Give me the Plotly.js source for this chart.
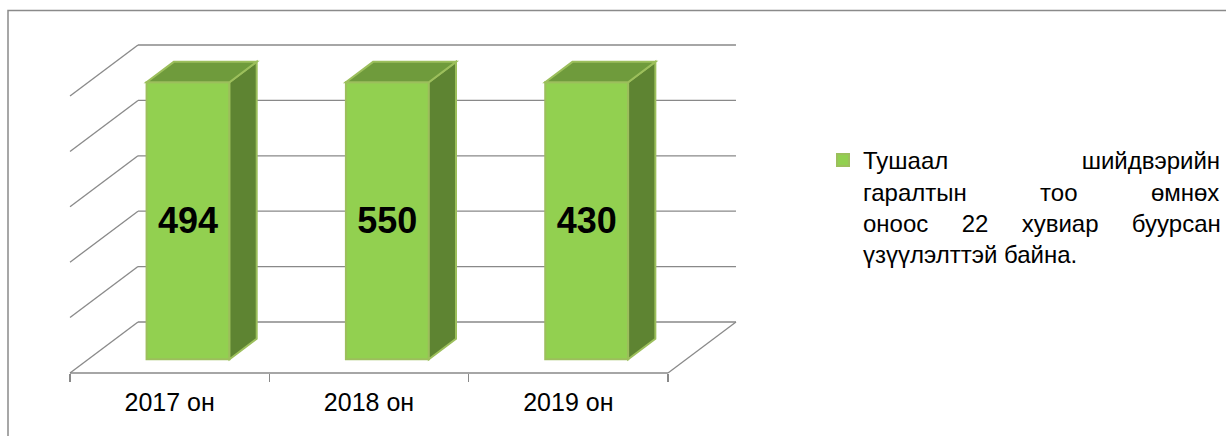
<!DOCTYPE html>
<html><head><meta charset="utf-8">
<script src="https://cdn.plot.ly/plotly-3.0.1.min.js"></script>
<style>html,body{margin:0;padding:0;background:#fff;overflow:hidden;} #chart{width:1226px;height:436px;}</style>
</head><body><div id="chart"></div>
<script>
// ---- data ----
const categories = ['2017 он', '2018 он', '2019 он'];
const values = [494, 550, 430];
const legendLines = ['Тушаал шийдвэрийн', 'гаралтын тоо өмнөх', 'оноос 22 хувиар буурсан', 'үзүүлэлттэй байна.'];
const axisMax = 400;   // value axis maximum (bars above it are clipped, as in the source)
const gridSteps = 5;

// ---- geometry / style ----
const W = 1226, H = 436;
const FONT = 'Liberation Sans, Arial, sans-serif';
const frontLeftPx = 70, catPx = 199.33, zeroPx = 373, fullPx = 277;
const depthPxX = 68, depthPxY = 51;
const barFrontDepth = 0.27, barDepth = 0.40, barWidth = 0.416;
const gridColor = '#898989';
const faceFront = '#92D050', faceTop = '#6F9B3C', faceSide = '#5E8432', edgeColor = '#9CBF5C';

const DX = depthPxX / catPx;
const DY = depthPxY / fullPx * axisMax;
const xLo = -0.6, xHi = 2.5 + DX + 0.1;
const yLo = -0.05 * axisMax, yHi = axisMax + DY + 0.05 * axisMax;
const xPx = x => frontLeftPx + (x + 0.5) * catPx;
const yPx = v => zeroPx - v / axisMax * fullPx;

const shapes = [];
const line = (x0, y0, x1, y1) => ({type: 'line', xref: 'x', yref: 'y', x0, y0, x1, y1, layer: 'below',
  line: {color: gridColor, width: 1.3}});
const step = axisMax / gridSteps;
for (let k = 0; k <= gridSteps; k++) {
  const v = k * step;
  shapes.push(line(-0.5 + DX, v + DY, 2.5 + DX, v + DY));   // back wall
  shapes.push(line(-0.5, v, -0.5 + DX, v + DY));            // side wall
}
shapes.push(line(-0.5, 0, 2.5, 0));                         // floor front edge
shapes.push(line(2.5, 0, 2.5 + DX, DY));                    // floor right edge

// 3-D faces of the bars
const base = barFrontDepth * DY;
const clipped = values.map(v => Math.min(v, axisMax));
const bdx = barDepth * DX, bdy = barDepth * DY;
const P = pts => 'M' + pts.map(p => p[0].toFixed(4) + ',' + p[1].toFixed(4)).join('L') + 'Z';
clipped.forEach((v, i) => {
  const x0 = i + barFrontDepth * DX - barWidth / 2, x1 = x0 + barWidth;
  const top = base + v;
  shapes.push({type: 'path', xref: 'x', yref: 'y', layer: 'above', fillcolor: faceSide,
    line: {color: edgeColor, width: 2},
    path: P([[x1, base], [x1, top], [x1 + bdx, top + bdy], [x1 + bdx, base + bdy]])});
  shapes.push({type: 'path', xref: 'x', yref: 'y', layer: 'above', fillcolor: faceTop,
    line: {color: edgeColor, width: 2},
    path: P([[x0, top], [x1, top], [x1 + bdx, top + bdy], [x0 + bdx, top + bdy]])});
});

// chart frame
shapes.push({type: 'rect', xref: 'paper', yref: 'paper', x0: 8 / W, x1: 1.02, y0: -0.02, y1: 1 - 10.5 / H,
  line: {color: '#8a8a8a', width: 1.5}, fillcolor: 'rgba(0,0,0,0)'});

// justified legend text (nbsp padding measured with the legend font)
const LEG_SIZE = 24, LEG_WIDTH = 355;
function justify(lines) {
  const ctx = document.createElement('canvas').getContext('2d');
  ctx.font = LEG_SIZE + 'px "Liberation Sans"';
  const nb = ctx.measureText('\u00A0').width;
  return lines.map((ln, li) => {
    const words = ln.split(' ');
    if (li === lines.length - 1 || words.length < 2) return ln;
    const wordsW = words.reduce((s, w) => s + ctx.measureText(w).width, 0);
    const gap = (LEG_WIDTH - wordsW) / (words.length - 1);
    let out = words[0], acc = 0, placed = 0;
    for (let i = 1; i < words.length; i++) {
      acc += gap;
      const n = Math.max(1, Math.round((acc - placed) / nb));
      placed += n * nb;
      out += '\u00A0'.repeat(n) + words[i];
    }
    return out;
  }).join('<br>');
}

const trace = {
  type: 'bar', x: categories, y: clipped, base: base,
  width: barWidth, offset: -barWidth / 2 + barFrontDepth * DX,
  marker: {color: faceFront, line: {color: edgeColor, width: 2}},
  text: values.map(String), textposition: 'inside', insidetextanchor: 'middle', textangle: 0,
  textfont: {family: FONT, size: 36, color: '#000', weight: 'bold'},
  name: justify(legendLines), showlegend: true, hoverinfo: 'skip'
};

const layout = {
  width: W, height: H, margin: {l: 0, r: 0, t: 0, b: 0, autoexpand: false},
  paper_bgcolor: '#fff', plot_bgcolor: 'rgba(0,0,0,0)',
  font: {family: FONT, color: '#000'},
  showlegend: true,
  xaxis: {type: 'category', range: [xLo, xHi], domain: [xPx(xLo) / W, xPx(xHi) / W],
    anchor: 'free', position: 1 - zeroPx / H,
    showgrid: false, zeroline: false, showline: false, tickson: 'boundaries',
    ticks: 'outside', ticklen: 8, tickwidth: 1.3, tickcolor: gridColor, ticklabelstandoff: 12,
    tickfont: {size: 25, color: '#000', family: FONT}, fixedrange: true},
  yaxis: {range: [yLo, yHi], domain: [1 - yPx(yLo) / H, 1 - yPx(yHi) / H],
    showgrid: false, zeroline: false, showline: false, showticklabels: false, ticks: '', fixedrange: true},
  legend: {xref: 'container', yref: 'container', x: 823 / W, y: 1 - 138 / H, xanchor: 'left', yanchor: 'top', valign: 'top',
    bgcolor: 'rgba(0,0,0,0)', font: {size: LEG_SIZE, family: FONT, color: '#000'}},
  shapes: shapes,
  hovermode: false
};

Plotly.newPlot('chart', [trace], layout, {staticPlot: true, displayModeBar: false});
</script>
</body></html>
